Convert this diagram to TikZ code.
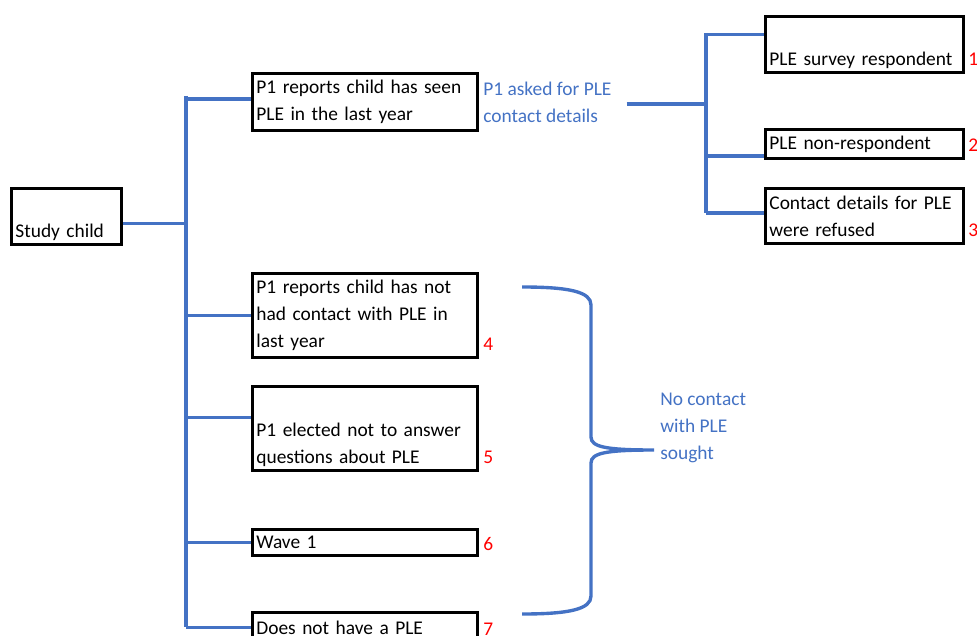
\documentclass[tikz,border=0pt]{standalone}
\usepackage{fontspec}
\setmainfont{Carlito}
\usepackage{tikz}
\usetikzlibrary{calc,positioning}
\definecolor{linkblue}{HTML}{4472C4}
\definecolor{numred}{HTML}{FF0000}
\newcommand{\boxfont}{\fontsize{13.8}{19.1}\selectfont}
\tikzset{
  box/.style={draw=black, line width=2.1pt, rectangle, anchor=north west,
    align=left, inner xsep=2.8pt, inner ysep=0pt, font=\boxfont,
    minimum width=#1, text width=#1-5.6pt},
  link/.style={draw=linkblue, line width=2.4pt},
  note/.style={text=linkblue, align=left, inner sep=0pt, font=\boxfont},
  num/.style={text=numred, anchor=base west, inner sep=0pt, font=\boxfont}
}

\begin{document}
\begin{tikzpicture}[x=0.025cm, y=-0.025cm]
\useasboundingbox (0,0) rectangle (977,636);

% boxes, left column
\node[box=2.75cm, minimum height=1.4cm] (sc) at (10,187) {\strut\\Study child};
\node[box=5.625cm, minimum height=1.425cm] (seen) at (251,72)
  {P1 reports child has seen\\PLE in the last year};
\node[box=5.625cm, minimum height=2.1cm] (notseen) at (251,272)
  {P1 reports child has not\\had contact with PLE in\\last year};
\node[box=5.625cm, minimum height=2.1cm] (noanswer) at (251,385)
  {\strut\\P1 elected not to answer\\questions about PLE};
\node[box=5.625cm, minimum height=0.65cm] (wave) at (251,528) {Wave 1};
\node[box=5.625cm, minimum height=0.75cm] (noPLE) at (251,611) {Does not have a PLE};

% boxes, right column
\node[box=4.95cm, minimum height=1.4cm] (resp) at (764,15)
  {\strut\\PLE survey respondent};
\node[box=4.95cm, minimum height=0.725cm] (nonresp) at (764,128) {PLE non-respondent};
\node[box=4.95cm, minimum height=1.375cm] (refused) at (764,187)
  {Contact details for PLE\\were refused};

% blue notes
\node[note, anchor=west] (pask) at ($(seen.east)+(4,0)$) {P1 asked for PLE\\contact details};
\node[note, anchor=west] (nocon) at (660,428) {No contact\\with PLE\\sought};

% red numbers
\node[num] (n1) at ($(resp.south east)+(3,-8)$) {1};
\node[num] (n2) at ($(nonresp.south east)+(3,-8)$) {2};
\node[num] (n3) at ($(refused.south east)+(3,-8)$) {3};
\node[num] (n4) at ($(notseen.south east)+(4,-8)$) {4};
\node[num] (n5) at ($(noanswer.south east)+(4,-8)$) {5};
\node[num] (n6) at ($(wave.south east)+(4,-6)$) {6};
\node[num] (n7) at ($(noPLE.south east)+(4,-8)$) {7};

% main tree
\coordinate (trunktop) at (186,96);
\coordinate (trunkbot) at (186,627);
\coordinate (scout) at ($(sc.east)+(0,7)$);
\coordinate (seenin) at ($(seen.west)+(0,-3)$);
\coordinate (noansin) at ($(noanswer.west)+(0,-11)$);
\draw[link] (trunktop) -- (trunkbot);
\draw[link] (scout) -- (scout -| trunktop);
\draw[link] (seenin -| trunktop) -- (seenin);
\draw[link] (trunktop |- notseen.west) -- (notseen.west);
\draw[link] (noansin -| trunktop) -- (noansin);
\draw[link] (trunktop |- wave.west) -- (wave.west);
\draw[link] (trunktop |- noPLE.west) -- (noPLE.west);

% contact tree
\coordinate (splittop) at (706,33);
\coordinate (splitbot) at (706,213);
\coordinate (askend) at ($(pask.east)+(15,2)$);
\coordinate (respin) at ($(resp.west)+(0,-10)$);
\coordinate (nonrespin) at ($(nonresp.west)+(0,12)$);
\draw[link] (splittop) -- (splitbot);
\draw[link] (askend) -- (askend -| splittop);
\draw[link] (respin -| splittop) -- (respin);
\draw[link] (nonrespin -| splittop) -- (nonrespin);
\draw[link] (splitbot) -- (splitbot -| refused.west);

% brace
\coordinate (brtop) at (522,287);
\coordinate (brtip) at (654,450);
\coordinate (brbot) at (522,614);
\draw[link] (brtop) .. controls (570,287) and (591,292) .. (591,305)
  -- (591,437) .. controls (591,447) and (606,450) .. (brtip)
  .. controls (606,450) and (591,453) .. (591,463)
  -- (591,596) .. controls (591,609) and (570,614) .. (brbot);
\end{tikzpicture}
\end{document}
